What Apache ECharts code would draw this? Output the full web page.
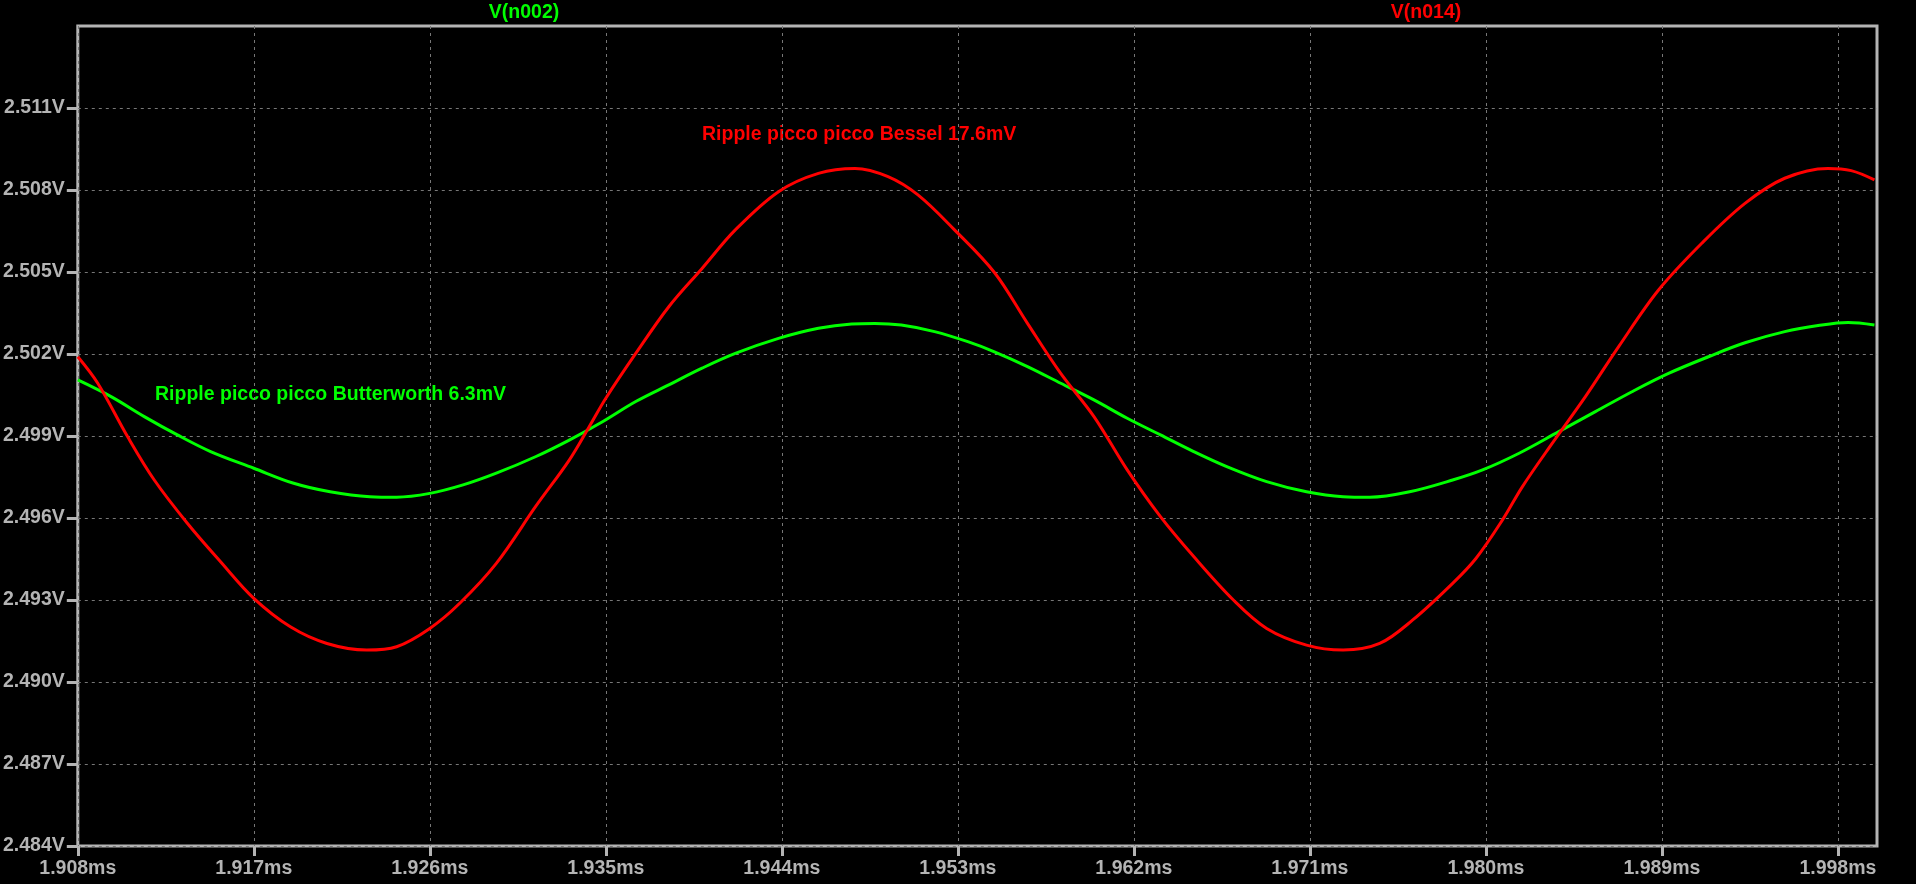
<!DOCTYPE html>
<html>
<head>
<meta charset="utf-8">
<script src="https://cdn.jsdelivr.net/npm/echarts@6/dist/echarts.min.js"></script>
<style>
html,body{margin:0;padding:0;background:#000;}
#chart{width:1916px;height:884px;}
</style>
</head>
<body>
<div id="chart"></div>
<script>
// ---- data (time in ms, voltage in V) ----
const besselTime = [1.90800,1.90902,1.91055,1.91191,1.91360,1.91530,1.91700,1.91887,1.92074,1.92277,1.92430,1.92600,1.92753,1.92940,1.93143,1.93313,1.93415,1.93500,1.93653,1.93822,1.93992,1.94162,1.94383,1.94587,1.94774,1.94943,1.95096,1.95283,1.95487,1.95656,1.95826,1.95996,1.96166,1.96336,1.96506,1.96709,1.96879,1.97083,1.97270,1.97457,1.97626,1.97830,1.97949,1.98085,1.98187,1.98339,1.98509,1.98679,1.98883,1.99104,1.99325,1.99528,1.99749,1.99868,1.99987];
const besselVolt = [2.50190,2.50093,2.49897,2.49739,2.49581,2.49440,2.49306,2.49202,2.49141,2.49117,2.49129,2.49196,2.49288,2.49434,2.49644,2.49812,2.49934,2.50038,2.50202,2.50373,2.50513,2.50654,2.50794,2.50861,2.50879,2.50849,2.50782,2.50654,2.50498,2.50312,2.50129,2.49971,2.49776,2.49605,2.49459,2.49300,2.49196,2.49135,2.49117,2.49141,2.49227,2.49361,2.49452,2.49593,2.49715,2.49873,2.50044,2.50227,2.50434,2.50605,2.50751,2.50843,2.50879,2.50871,2.50837];
const butterTime = [1.90800,1.90970,1.91140,1.91309,1.91479,1.91700,1.91904,1.92090,1.92294,1.92430,1.92600,1.92770,1.92940,1.93143,1.93313,1.93483,1.93653,1.93822,1.93992,1.94162,1.94383,1.94587,1.94757,1.94875,1.95011,1.95181,1.95351,1.95487,1.95656,1.95826,1.95996,1.96166,1.96336,1.96506,1.96675,1.96879,1.97083,1.97270,1.97406,1.97610,1.97830,1.97983,1.98170,1.98373,1.98560,1.98747,1.98934,1.99138,1.99325,1.99528,1.99699,1.99852,1.99987];
const butterVolt = [2.50105,2.50044,2.49971,2.49904,2.49843,2.49782,2.49727,2.49696,2.49678,2.49676,2.49690,2.49721,2.49764,2.49825,2.49885,2.49952,2.50026,2.50087,2.50148,2.50202,2.50257,2.50294,2.50310,2.50312,2.50306,2.50282,2.50245,2.50208,2.50154,2.50093,2.50032,2.49965,2.49904,2.49843,2.49788,2.49733,2.49696,2.49678,2.49676,2.49696,2.49739,2.49776,2.49837,2.49916,2.49989,2.50062,2.50129,2.50190,2.50241,2.50282,2.50304,2.50315,2.50306];
const xTicks = [1.908,1.917,1.926,1.935,1.944,1.953,1.962,1.971,1.980,1.989,1.998];
const yTicks = [2.484,2.487,2.490,2.493,2.496,2.499,2.502,2.505,2.508,2.511];
const traceNames = ['V(n002)','V(n014)'];
const noteButter = 'Ripple picco picco Butterworth 6.3mV';
const noteBessel = 'Ripple picco picco Bessel 17.6mV';

const AX = '#b4b4b4';
const FONT = '"Liberation Sans", Arial, sans-serif';
const GREEN = '#00ff00', RED = '#ff0000';

const zip = (a, b) => a.map((v, i) => [v, b[i]]);

const chart = echarts.init(document.getElementById('chart'), null, {renderer: 'canvas'});
chart.setOption({
  backgroundColor: '#000',
  animation: false,
  grid: {left: 75, right: 39, top: 26, bottom: 38, show: true, borderColor: AX, borderWidth: 3, backgroundColor: '#000'},
  xAxis: {
    type: 'value', min: 1.908, max: 2.000, interval: 0.009,
    axisLine: {show: false},
    axisTick: {show: true, inside: false, length: 10, customValues: xTicks, lineStyle: {color: AX, width: 3}},
    axisLabel: {customValues: xTicks, color: AX, fontFamily: FONT, fontWeight: 'bold', fontSize: 19.5, margin: 13,
      formatter: v => v.toFixed(3) + 'ms'},
    splitLine: {show: true, lineStyle: {color: '#777', width: 1, type: [3, 4]}}
  },
  yAxis: {
    type: 'value', min: 2.484, max: 2.514, interval: 0.003,
    axisLine: {show: false},
    axisTick: {show: true, inside: false, length: 11, customValues: yTicks, lineStyle: {color: AX, width: 3}},
    axisLabel: {customValues: yTicks, color: AX, fontFamily: FONT, fontWeight: 'bold', fontSize: 19.5, margin: 13,
      formatter: v => v.toFixed(3) + 'V'},
    splitLine: {show: true, lineStyle: {color: '#777', width: 1, type: [3, 4]}}
  },
  graphic: [
    {type: 'text', x: 524, y: 13, style: {text: traceNames[0], fill: GREEN, font: 'bold 19.5px ' + FONT, align: 'center', verticalAlign: 'middle'}},
    {type: 'text', x: 1426, y: 13, style: {text: traceNames[1], fill: RED, font: 'bold 19.5px ' + FONT, align: 'center', verticalAlign: 'middle'}},
    {type: 'text', x: 155, y: 395, style: {text: noteButter, fill: GREEN, font: 'bold 19.5px ' + FONT, align: 'left', verticalAlign: 'middle'}},
    {type: 'text', x: 702, y: 135, style: {text: noteBessel, fill: RED, font: 'bold 19.5px ' + FONT, align: 'left', verticalAlign: 'middle'}}
  ],
  series: [
    {name: traceNames[0], type: 'line', data: zip(butterTime, butterVolt), showSymbol: false, smooth: 0.35,
      lineStyle: {color: GREEN, width: 3}, z: 3},
    {name: traceNames[1], type: 'line', data: zip(besselTime, besselVolt), showSymbol: false, smooth: 0.35,
      lineStyle: {color: RED, width: 3}, z: 4}
  ]
});
</script>
</body>
</html>
